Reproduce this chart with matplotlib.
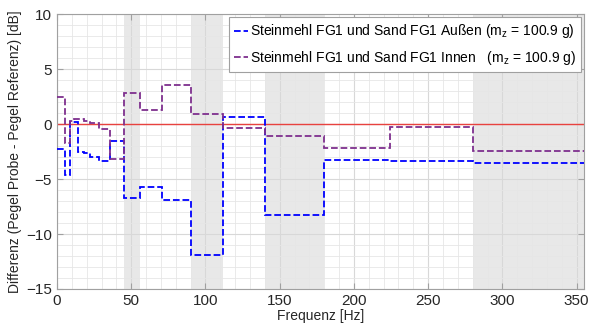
import matplotlib
matplotlib.use("Agg")
import matplotlib.pyplot as plt
from matplotlib.ticker import MultipleLocator

plt.rcParams["font.family"] = ["Liberation Sans", "DejaVu Sans"]
plt.rcParams["mathtext.fontset"] = "custom"
plt.rcParams["mathtext.rm"] = "Liberation Sans"
plt.rcParams["mathtext.it"] = "Liberation Sans"

# band edges (Hz)
edges = [0, 5.6, 9, 11.2, 14, 18, 22.4, 28, 35.5, 45, 56, 71, 90, 112, 140, 180, 224, 280, 355]

# Differenz [dB] per band
aussen = [-2.3, -4.6, 0.2, 0.2, -2.5, -2.6, -3.0, -3.35, -1.5, -6.7, -5.7, -6.9,
          -11.9, 0.6, -8.3, -3.3, -3.4, -3.5]
innen = [2.45, -1.7, 0.3, 0.5, 0.5, 0.3, 0.1, -0.45, -3.2, 2.8, 1.3, 3.6,
         0.9, -0.4, -1.1, -2.2, -0.25, -2.45]

shaded = [(45, 56), (90, 112), (140, 180), (280, 355)]

lbl_a = r"Steinmehl FG1 und Sand FG1 Außen (m$_\mathrm{z}$ = 100.9 g)"
lbl_i = r"Steinmehl FG1 und Sand FG1 Innen   (m$_\mathrm{z}$ = 100.9 g)"

fig = plt.figure(figsize=(5.96, 3.29), dpi=100)
ax = fig.add_axes([0.0956, 0.1216, 0.8844, 0.8354])

for lo, hi in shaded:
    ax.axvspan(lo, hi, color="#e8e8e8", lw=0, zorder=0.2)

ax.axhline(0, color="#e8423f", lw=1.0, zorder=2)
ax.stairs(aussen, edges, color="#0000ff", ls="--", lw=1.3, label=lbl_a, zorder=3,
          baseline=None)
ax.stairs(innen, edges, color="#7e2f8e", ls="--", lw=1.3, label=lbl_i, zorder=3,
          baseline=None)

ax.set_xlim(0, 355)
ax.set_ylim(-15, 10)
ax.xaxis.set_major_locator(MultipleLocator(50))
ax.xaxis.set_minor_locator(MultipleLocator(10))
ax.yaxis.set_major_locator(MultipleLocator(5))
ax.yaxis.set_minor_locator(MultipleLocator(1))
ax.set_axisbelow(True)
ax.grid(which="major", color="#d8d8d8", lw=0.8)
ax.grid(which="minor", color="#e6e6e6", lw=0.6)

ax.tick_params(which="both", direction="in", top=True, right=True,
               colors="#262626", labelsize=11)
ax.tick_params(which="minor", length=0)
ax.tick_params(which="major", length=4, color="#a0a0a0")
for sp in ax.spines.values():
    sp.set_color("#a0a0a0")

ax.set_xlabel("Frequenz [Hz]", fontsize=10, color="#262626", labelpad=1)
ax.set_ylabel("Differenz (Pegel Probe - Pegel Referenz) [dB]", fontsize=10,
              color="#262626", labelpad=3)

leg = ax.legend(loc="upper right", fontsize=10, handlelength=1.0,
                handletextpad=0.1, fancybox=False, framealpha=1,
                edgecolor="#a0a0a0", borderaxespad=0.2, labelspacing=0.6)
leg.get_frame().set_linewidth(0.8)

fig.savefig("out.png", dpi=100)
